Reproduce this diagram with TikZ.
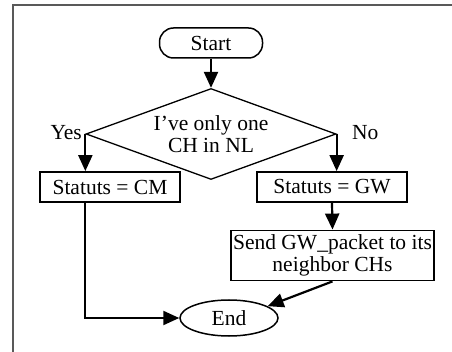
\documentclass[tikz,border=0pt]{standalone}
\usepackage{fontspec}
\setmainfont{Liberation Serif}
\usetikzlibrary{shapes.geometric,arrows.meta}
\tikzset{
  base/.style={font=\fontsize{21.5}{22}\selectfont, inner sep=0pt, align=center},
  procbox/.style={base, draw, rectangle, line width=1.8pt},
  termbox/.style={base, draw, rectangle, rounded corners=14pt, line width=1.5pt},
  endell/.style={base, draw, ellipse, line width=1.5pt},
  decbox/.style={base, draw, diamond, shape aspect=2.75, line width=1.3pt},
  arr/.style={-{Triangle[length=16pt,width=14pt]}, line width=2.2pt},
  lbl/.style={base},
  frameline/.style={draw=black!65, line width=2pt}
}
\begin{document}
\begin{tikzpicture}[x=1pt,y=-1pt]
\useasboundingbox (0,0) rectangle (452,352);
\draw[frameline] (13,352) -- (13,5) -- (452,5);

\node[termbox, minimum width=103pt, minimum height=30pt] (start) at (211,43) {Start};
\node[decbox, minimum width=250pt, minimum height=91pt] (dec) at (211,134) {I’ve only one\\CH in NL};
\node[procbox, minimum width=140pt, minimum height=30pt] (cm) at (110,187) {Statuts = CM};
\node[procbox, minimum width=150pt, minimum height=30pt] (gw) at (332,187) {Statuts = GW};
\node[procbox, minimum width=203pt, minimum height=50pt] (send) at (332.5,255.5) {Send GW\_packet to its\\neighbor CHs};
\node[endell, minimum width=98pt, minimum height=36pt] (end) at (229,318) {End};

\node[lbl, anchor=east] (yes) at (82,133) {Yes};
\node[lbl, anchor=west] (no) at (352,133) {No};

\draw[arr] (start) -- (dec);
\draw[arr] (dec.west) -- (dec.west |- cm.north);
\draw[arr] (dec.east) -- (dec.east |- gw.north);
\draw[arr] (gw.south) -- (send.north);
\draw[arr] (send.south) -- (end.17);
\draw[arr] (dec.west |- cm.south) |- (end.west);
\end{tikzpicture}
\end{document}
